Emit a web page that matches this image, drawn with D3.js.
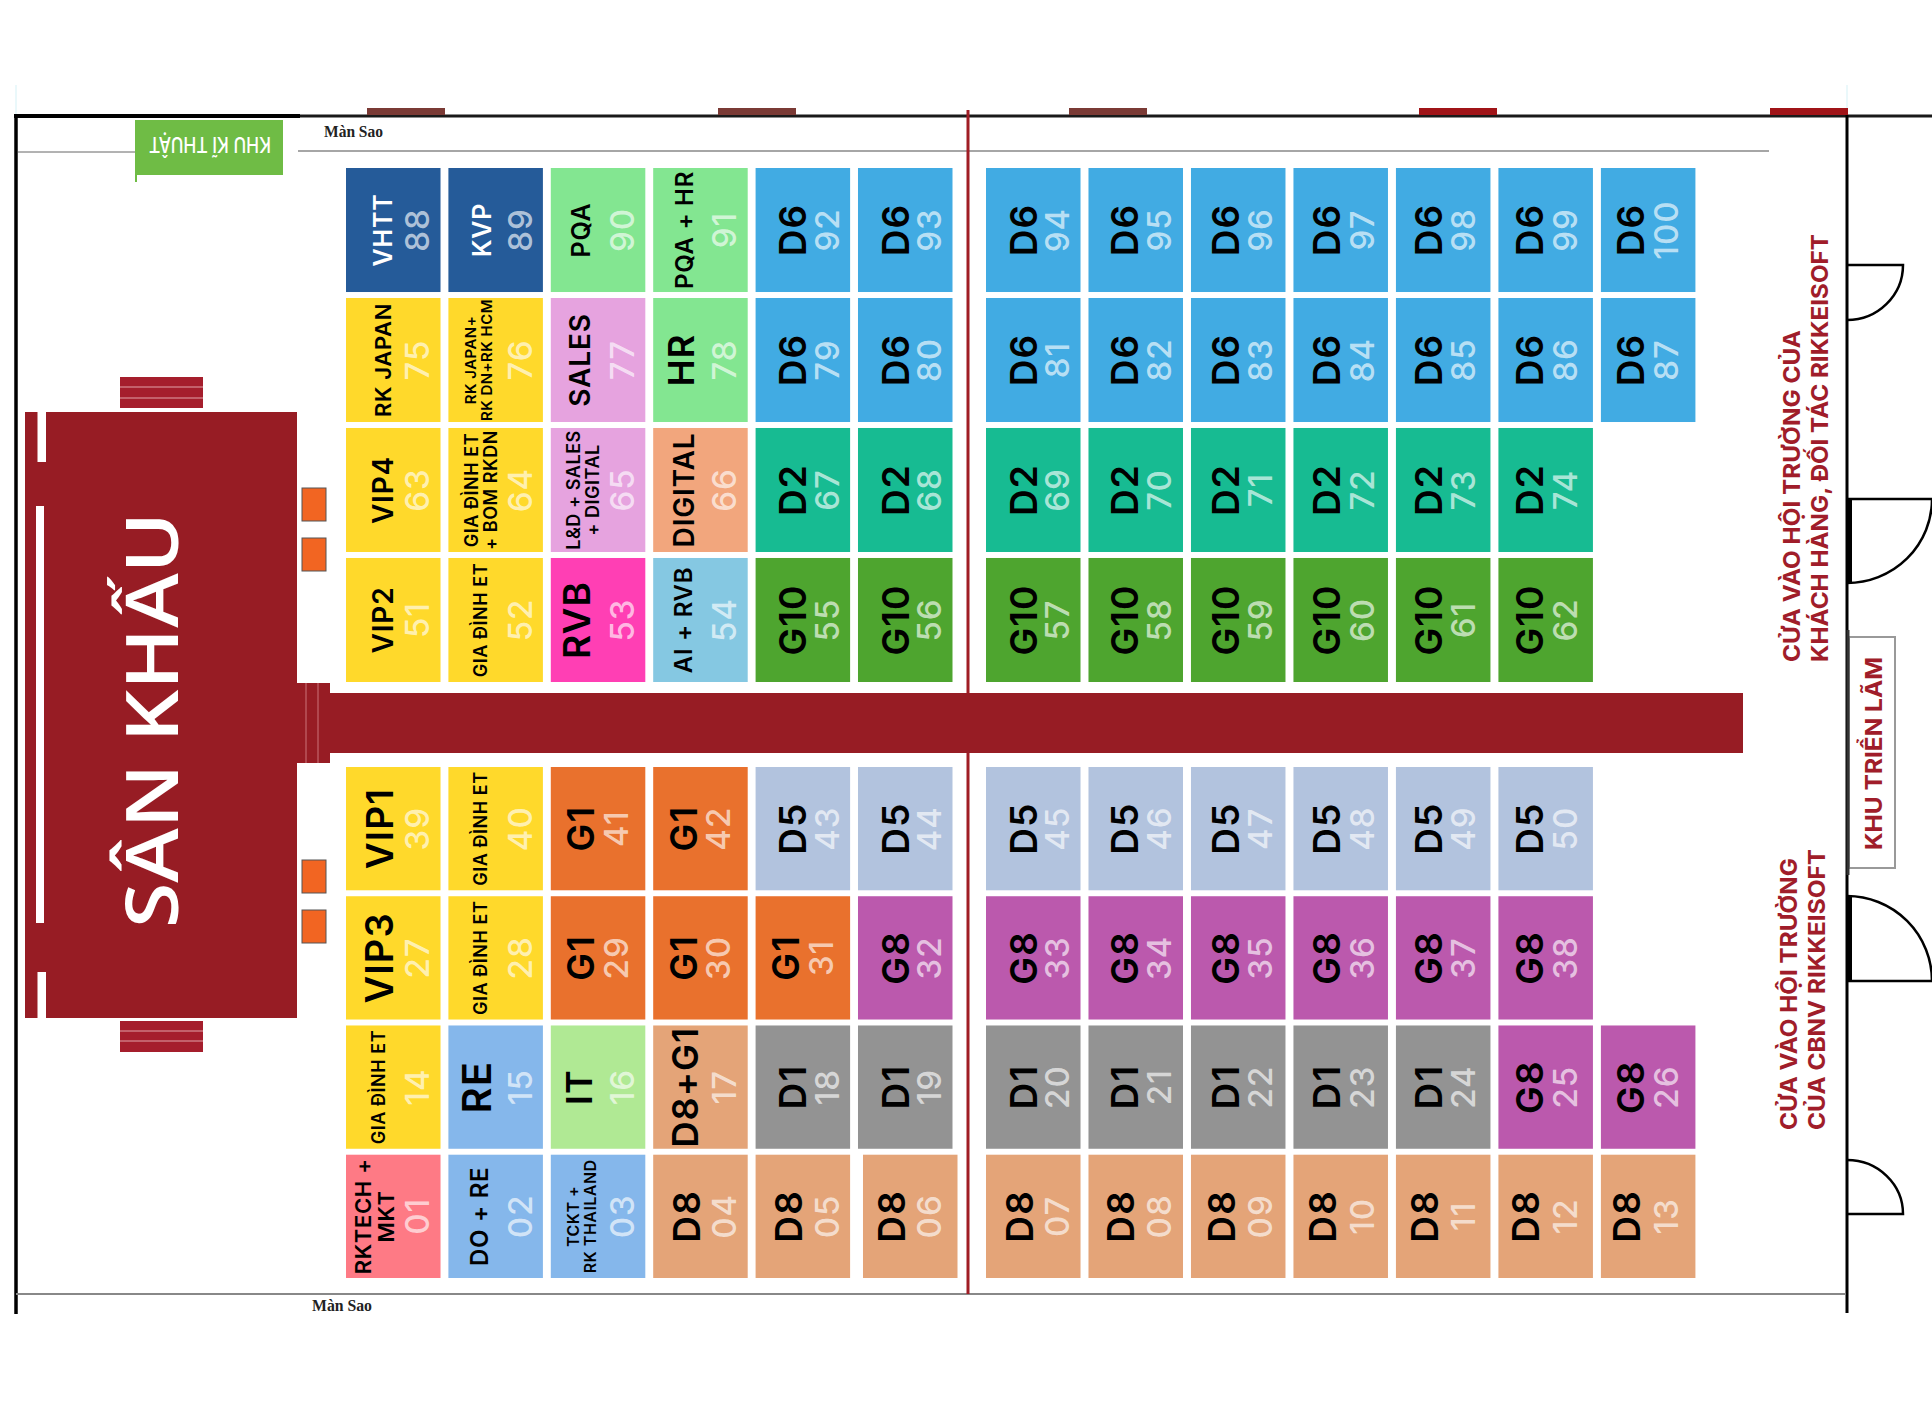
<!DOCTYPE html>
<html>
<head>
<meta charset="utf-8">
<script src="https://cdnjs.cloudflare.com/ajax/libs/d3/7.8.5/d3.min.js"></script>
<style>
  body { margin: 0; background: #fff; }
  svg { display: block; }
  text { font-family: Inter, "Open Sans", sans-serif; }
</style>
</head>
<body>
<div class="canva"></div>
<script>
// seat rows, top of the room first. null = no table
const labelsRow1 = ["VHTT", "KVP", "PQA", "PQA + HR", "D6", "D6", "D6", "D6", "D6", "D6", "D6", "D6", "D6"]
const numbersRow1 = [88, 89, 90, 91, 92, 93, 94, 95, 96, 97, 98, 99, 100]
const labelsRow2 = ["RK JAPAN", "RK JAPAN+|RK DN+RK HCM", "SALES", "HR", "D6", "D6", "D6", "D6", "D6", "D6", "D6", "D6", "D6"]
const numbersRow2 = [75, 76, 77, 78, 79, 80, 81, 82, 83, 84, 85, 86, 87]
const labelsRow3 = ["VIP4", "GIA ĐÌNH ET|+ BOM RKDN", "L&D + SALES|+ DIGITAL", "DIGITAL", "D2", "D2", "D2", "D2", "D2", "D2", "D2", "D2", null]
const numbersRow3 = [63, 64, 65, 66, 67, 68, 69, 70, 71, 72, 73, 74, null]
const labelsRow4 = ["VIP2", "GIA ĐÌNH ET", "RVB", "AI + RVB", "G10", "G10", "G10", "G10", "G10", "G10", "G10", "G10", null]
const numbersRow4 = [51, 52, 53, 54, 55, 56, 57, 58, 59, 60, 61, 62, null]
const labelsRow5 = ["VIP1", "GIA ĐÌNH ET", "G1", "G1", "D5", "D5", "D5", "D5", "D5", "D5", "D5", "D5", null]
const numbersRow5 = [39, 40, 41, 42, 43, 44, 45, 46, 47, 48, 49, 50, null]
const labelsRow6 = ["VIP3", "GIA ĐÌNH ET", "G1", "G1", "G1", "G8", "G8", "G8", "G8", "G8", "G8", "G8", null]
const numbersRow6 = [27, 28, 29, 30, 31, 32, 33, 34, 35, 36, 37, 38, null]
const labelsRow7 = ["GIA ĐÌNH ET", "RE", "IT", "D8+G1", "D1", "D1", "D1", "D1", "D1", "D1", "D1", "G8", "G8"]
const numbersRow7 = [14, 15, 16, 17, 18, 19, 20, 21, 22, 23, 24, 25, 26]
const labelsRow8 = ["RKTECH +|MKT", "DO + RE", "TCKT +|RK THAILAND", "D8", "D8", "D8", "D8", "D8", "D8", "D8", "D8", "D8", "D8"]
const numbersRow8 = [1, 2, 3, 4, 5, 6, 7, 8, 9, 10, 11, 12, 13]

const allLabels = [labelsRow1, labelsRow2, labelsRow3, labelsRow4, labelsRow5, labelsRow6, labelsRow7, labelsRow8]
const allNumbers = [numbersRow1, numbersRow2, numbersRow3, numbersRow4, numbersRow5, numbersRow6, numbersRow7, numbersRow8]

// colour of a table by its group
const groupColors = {
  "VHTT": "#255b99", "KVP": "#255b99", "PQA": "#83e691", "PQA + HR": "#83e691", "HR": "#83e691",
  "D6": "#41abe3", "D2": "#17bb92", "G10": "#4ea52f", "D5": "#b2c3de", "G8": "#bb59ad",
  "D1": "#939393", "D8": "#e4a478", "D8+G1": "#e4a478", "G1": "#e9712d",
  "SALES": "#e6a3df", "L&D + SALES|+ DIGITAL": "#e6a3df", "DIGITAL": "#f2a67d",
  "RVB": "#ff3fb4", "AI + RVB": "#85c8e2", "RE": "#85b7eb", "DO + RE": "#85b7eb",
  "TCKT +|RK THAILAND": "#85b7eb", "IT": "#b0e994", "RKTECH +|MKT": "#fe7a85"
}
const yellow = "#ffd92b"

// font size and sideways offset of each label
const labelStyle = {
  "VHTT": [25, -12, "#fff"], "KVP": [25, -16, "#fff"], "PQA": [25, -19], "PQA + HR": [24, -18],
  "RK JAPAN": [22, -12], "RK JAPAN+|RK DN+RK HCM": [15, -19], "SALES": [28, -20], "HR": [36, -21],
  "VIP4": [28, -12], "VIP2": [28, -12], "VIP1": [37, -16], "VIP3": [38, -16],
  "GIA ĐÌNH ET|+ BOM RKDN": [18, -17], "L&D + SALES|+ DIGITAL": [18, -17], "DIGITAL": [28, -19],
  "GIA ĐÌNH ET": [18, -17], "RVB": [37, -23], "AI + RVB": [24, -19],
  "G1": [37, -19], "D6": [37, -12], "D2": [37, -12], "G10": [37, -12], "D5": [37, -12],
  "G8": [37, -12], "D1": [37, -12], "D8": [37, -16], "D8+G1": [36, -17], "RE": [40, -21],
  "IT": [36, -21], "RKTECH +|MKT": [22, -21], "DO + RE": [24, -18], "TCKT +|RK THAILAND": [16, -18]
}

const svg = d3.select(".canva").append("svg")
  .attr("width", 1932)
  .attr("height", 1403)

// grid either side of the red centre line / catwalk
const xLeft = d3.scaleBand().domain(d3.range(0, 6)).range([346, 952.5]).paddingInner(0.077)
const xRight = d3.scaleBand().domain(d3.range(6, 13)).range([986, 1695.5]).paddingInner(0.077)
const yTop = d3.scaleBand().domain(d3.range(0, 4)).range([168, 682]).paddingInner(0.046)
const yBottom = d3.scaleBand().domain(d3.range(4, 8)).range([767, 1278]).paddingInner(0.046)
const colX = c => c < 6 ? xLeft(c) : xRight(c)
const rowY = r => r < 4 ? yTop(r) : yBottom(r)
const numberText = d3.format("02")

const cells = []
allLabels.forEach((row, r) => row.forEach((label, c) => {
  if (label) cells.push({ label, number: allNumbers[r][c], c, r })
}))

// faint construction ticks above the corners
svg.append("line").attr("x1", 16).attr("x2", 16).attr("y1", 85).attr("y2", 114).attr("stroke", "#d5f1f6").attr("stroke-width", 1)
svg.append("line").attr("x1", 1847).attr("x2", 1847).attr("y1", 85).attr("y2", 108).attr("stroke", "#d5f1f6").attr("stroke-width", 1)

// walls and curtain lines
svg.append("line").attr("x1", 15).attr("x2", 1932).attr("y1", 116).attr("y2", 116).attr("stroke", "#1a1a1a").attr("stroke-width", 2.8)
svg.append("line").attr("x1", 14).attr("x2", 300).attr("y1", 116).attr("y2", 116).attr("stroke", "#000").attr("stroke-width", 4)
svg.append("line").attr("x1", 16).attr("x2", 16).attr("y1", 114).attr("y2", 1314).attr("stroke", "#000").attr("stroke-width", 3.5)
svg.append("line").attr("x1", 1847).attr("x2", 1847).attr("y1", 115).attr("y2", 1313).attr("stroke", "#000").attr("stroke-width", 3)
svg.append("line").attr("x1", 18).attr("x2", 137).attr("y1", 152).attr("y2", 152).attr("stroke", "#666").attr("stroke-width", 1)
svg.append("line").attr("x1", 298).attr("x2", 1769).attr("y1", 151).attr("y2", 151).attr("stroke", "#888").attr("stroke-width", 1.6)
svg.append("line").attr("x1", 16).attr("x2", 1846).attr("y1", 1294).attr("y2", 1294).attr("stroke", "#888").attr("stroke-width", 2)

// window blocks along the top wall
const topBlocks = [[367, "#7a3a35"], [718, "#7a3a35"], [1069, "#7a3a35"], [1419, "#a01418"], [1770, "#a01418"]]
svg.selectAll(".block").data(topBlocks).enter().append("rect")
  .attr("x", d => d[0]).attr("y", 108).attr("width", 78).attr("height", 7).attr("fill", d => d[1])

// centre line
svg.append("line").attr("x1", 968).attr("x2", 968).attr("y1", 110).attr("y2", 1294).attr("stroke", "#a01d25").attr("stroke-width", 3)

// tech area
svg.append("rect").attr("x", 137).attr("y", 120).attr("width", 146).attr("height", 55).attr("fill", "#6fbc45")
svg.append("rect").attr("x", 135).attr("y", 120).attr("width", 2).attr("height", 62).attr("fill", "#6fbc45")
svg.append("text").text("KHU KĨ THUẬT")
  .attr("transform", "translate(210,145) rotate(180)")
  .attr("text-anchor", "middle").attr("y", 8)
  .attr("textLength", 122).attr("lengthAdjust", "spacingAndGlyphs")
  .attr("font-size", 22).attr("font-weight", 500).attr("fill", "#fff")

svg.append("text").text("Màn Sao").attr("x", 324).attr("y", 137)
  .style("font-family", "'Liberation Serif'").attr("font-size", 16).attr("font-weight", 700).attr("fill", "#222")
  .attr("textLength", 59).attr("lengthAdjust", "spacingAndGlyphs")
svg.append("text").text("Màn Sao").attr("x", 312).attr("y", 1311)
  .style("font-family", "'Liberation Serif'").attr("font-size", 16).attr("font-weight", 700).attr("fill", "#222")
  .attr("textLength", 60).attr("lengthAdjust", "spacingAndGlyphs")

// stage
const stageRed = "#971c24"
svg.append("rect").attr("x", 25).attr("y", 412).attr("width", 272).attr("height", 606).attr("fill", stageRed)
const slits = [[37.5, 412, 8.5, 50], [36, 506, 8, 417], [37.5, 972, 8.5, 46]]
svg.selectAll(".slit").data(slits).enter().append("rect")
  .attr("x", d => d[0]).attr("y", d => d[1]).attr("width", d => d[2]).attr("height", d => d[3]).attr("fill", "#fff")

// stage steps, top and bottom
const steps = [377, 1021]
svg.selectAll(".step").data(steps).enter().append("rect")
  .attr("x", 120).attr("y", d => d).attr("width", 83).attr("height", 31).attr("fill", "#a51e2c")
const stepLines = [387, 398, 1031, 1041]
svg.selectAll(".stepline").data(stepLines).enter().append("line")
  .attr("x1", 120).attr("x2", 203).attr("y1", d => d).attr("y2", d => d).attr("stroke", "#e2a3a8").attr("stroke-width", 1)

// speaker boxes
const speakers = [488, 538, 860, 910]
svg.selectAll(".speaker").data(speakers).enter().append("rect")
  .attr("x", 302).attr("y", d => d).attr("width", 24).attr("height", 33)
  .attr("fill", "#f26522").attr("stroke", "#555").attr("stroke-width", 1)

// catwalk
svg.append("rect").attr("x", 297).attr("y", 683).attr("width", 33).attr("height", 80).attr("fill", stageRed)
svg.append("rect").attr("x", 329).attr("y", 693).attr("width", 1414).attr("height", 60).attr("fill", stageRed)
const catwalkLines = [306, 318]
svg.selectAll(".cwline").data(catwalkLines).enter().append("line")
  .attr("x1", d => d).attr("x2", d => d).attr("y1", 683).attr("y2", 763).attr("stroke", "#d98a8f").attr("stroke-width", 0.8)

svg.append("text").text("SÂN KHẤU")
  .attr("transform", "translate(178,928) rotate(-90)")
  .style("font-family", "'Open Sans'")
  .attr("textLength", 416).attr("lengthAdjust", "spacingAndGlyphs")
  .attr("font-size", 72).attr("font-weight", 600).attr("fill", "#fff")

// tables
const cell = svg.selectAll(".cell").data(cells).enter().append("g").attr("class", "cell")

cell.append("rect")
  .attr("x", d => colX(d.c) + (d.number === 6 ? 5 : 0))
  .attr("y", d => rowY(d.r))
  .attr("width", xLeft.bandwidth())
  .attr("height", d => d.r < 4 ? yTop.bandwidth() : yBottom.bandwidth())
  .attr("fill", d => groupColors[d.label] || yellow)

const centre = d => {
  const h = d.r < 4 ? yTop.bandwidth() : yBottom.bandwidth()
  return [colX(d.c) + xLeft.bandwidth() / 2, rowY(d.r) + h / 2]
}

// text drifts a little left of the table centre towards the right end of the room
const labelDrift = c => c < 6 ? 2 : 2 - (c - 6) * 1.2
const numberDrift = c => c < 6 ? 0 : -(c - 6)

// one rotated text per line of the label
cell.each(function (d) {
  const [cx, cy] = centre(d)
  const [size, dx, fill] = labelStyle[d.label]
  const lines = d.label.split("|")
  const g = d3.select(this)
  const gap = size * 1.05
  lines.forEach((line, i) => {
    const off = dx + labelDrift(d.c) + (i - (lines.length - 1) / 2) * gap
    g.append("text").text(line)
      .attr("transform", `translate(${cx + off + size * 0.36},${cy}) rotate(-90)`)
      .attr("text-anchor", "middle")
      .attr("font-size", size)
      .attr("font-weight", 600)
      .attr("letter-spacing", size * 0.03)
      .attr("fill", fill || "#000")
  })
  g.append("text").text(numberText(d.number))
    .attr("transform", `translate(${cx + (d.label === "G1" ? 18 : 24) + numberDrift(d.c) + 12},${cy}) rotate(-90)`)
    .attr("text-anchor", "middle")
    .attr("font-size", 33)
    .attr("font-weight", 500)
    .attr("letter-spacing", 1)
    .attr("fill", "#fff")
    .attr("fill-opacity", 0.65)
})

// doors on the right wall
const doors = [
  "M1847,265 H1903 A56,55 0 0 1 1847,320",
  "M1847,499 H1932 M1932,499 A85,84 0 0 1 1847,583",
  "M1847,981 H1932 M1847,896 A85,85 0 0 1 1932,981",
  "M1847,1160 A56,54 0 0 1 1903,1214 H1847"
]
svg.selectAll(".door").data(doors).enter().append("path")
  .attr("d", d => d).attr("fill", "none").attr("stroke", "#000").attr("stroke-width", 2.5)
svg.append("rect").attr("x", 1847).attr("y", 499).attr("width", 5).attr("height", 84).attr("fill", "#000")
svg.append("rect").attr("x", 1847).attr("y", 896).attr("width", 5).attr("height", 85).attr("fill", "#000")

// exhibition box
svg.append("rect").attr("x", 1849).attr("y", 637).attr("width", 46).attr("height", 231)
  .attr("fill", "#fff").attr("stroke", "#999").attr("stroke-width", 2)
svg.append("line").attr("x1", 1848).attr("x2", 1848).attr("y1", 630).attr("y2", 875).attr("stroke", "#333").attr("stroke-width", 3)

// red captions: baseline x, start y, length, text
const captions = [
  [1800, 662, 332, "CỬA VÀO HỘI TRƯỜNG CỦA"],
  [1828, 662, 428, "KHÁCH HÀNG, ĐỐI TÁC RIKKEISOFT"],
  [1797, 1130, 272, "CỬA VÀO HỘI TRƯỜNG"],
  [1825, 1130, 281, "CỦA CBNV RIKKEISOFT"],
  [1882, 850, 193, "KHU TRIỂN LÃM"]
]
svg.selectAll(".caption").data(captions).enter().append("text")
  .text(d => d[3])
  .attr("transform", d => `translate(${d[0]},${d[1]}) rotate(-90)`)
  .attr("textLength", d => d[2]).attr("lengthAdjust", "spacingAndGlyphs")
  .attr("font-size", 23).attr("font-weight", 700).attr("fill", "#a01d2a")
</script>
</body>
</html>
